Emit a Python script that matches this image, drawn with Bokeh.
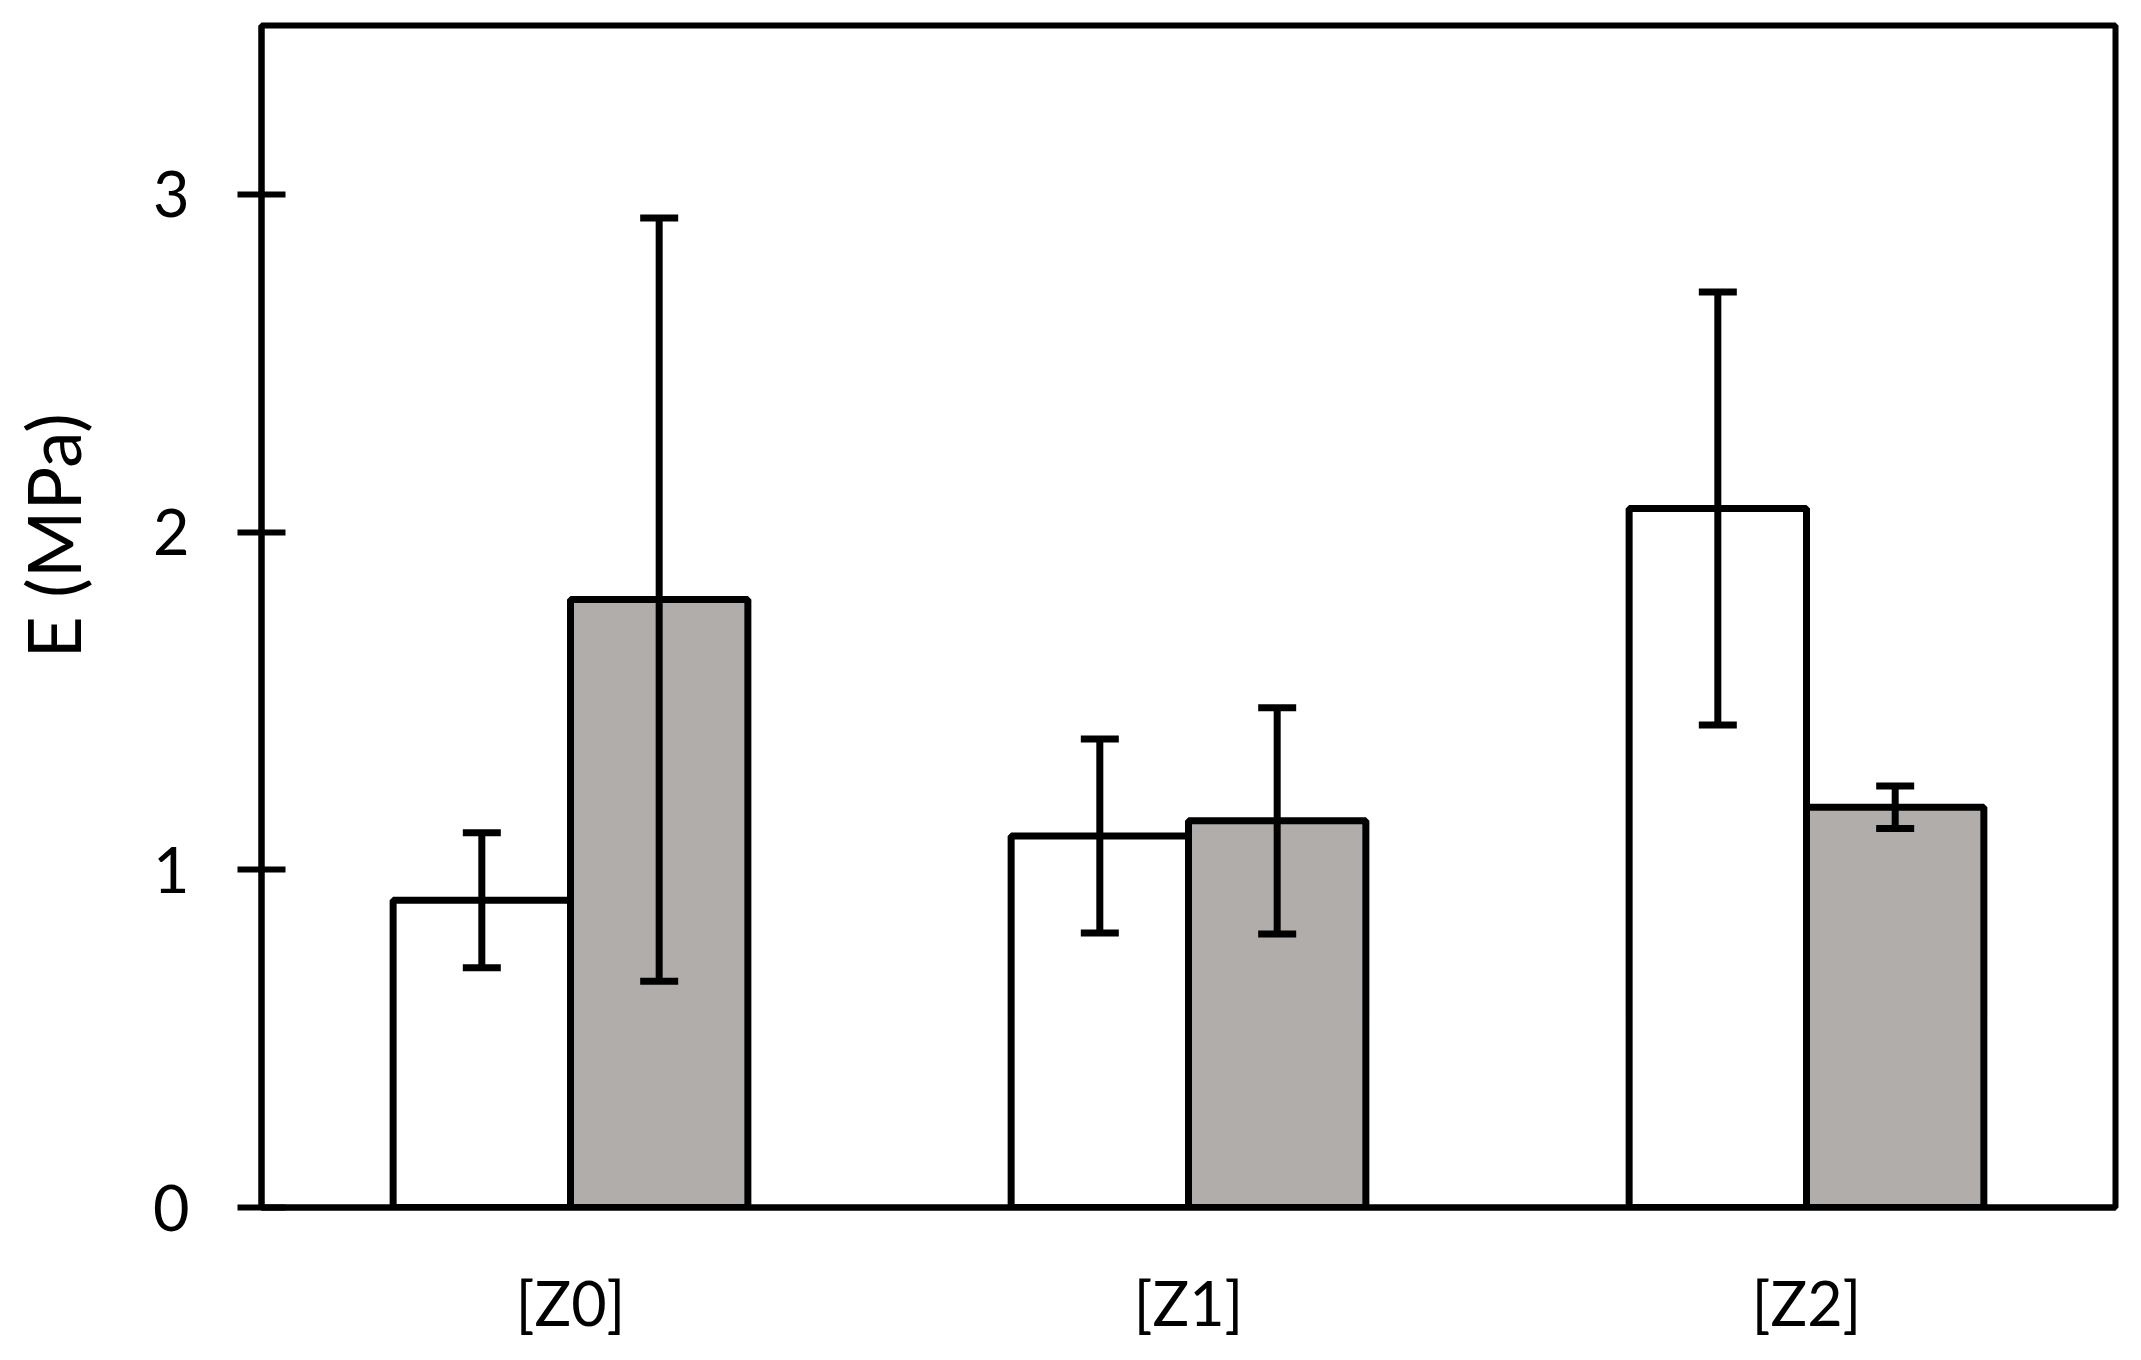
from bokeh.plotting import figure
from bokeh.models import ColumnDataSource, FactorRange, Range1d, FixedTicker, Whisker, TeeHead, Title
from bokeh.transform import dodge
from bokeh.embed import file_html
from bokeh.resources import INLINE

# ---- data ----
categories = ["[Z0]", "[Z1]", "[Z2]"]
series_a = [0.91, 1.10, 2.07]      # white bars
err_a = [0.20, 0.287, 0.641]
series_b = [1.80, 1.145, 1.185]    # grey bars
err_b = [1.13, 0.335, 0.063]
y_ticks = [0, 1, 2, 3]
y_label = "E (MPa)"

src = ColumnDataSource(dict(
    cat=categories,
    a=series_a, a_up=[v + e for v, e in zip(series_a, err_a)], a_lo=[v - e for v, e in zip(series_a, err_a)],
    b=series_b, b_up=[v + e for v, e in zip(series_b, err_b)], b_lo=[v - e for v, e in zip(series_b, err_b)],
))

FONT = "Lato"
LW = 7
BAR_W = 0.287
OFF = BAR_W / 2

p = figure(width=2125, height=1344, output_backend="svg", toolbar_location=None,
           x_range=FactorRange(factors=categories, range_padding=0),
           y_range=Range1d(0, 3.5),
           min_border_left=261, min_border_right=10, min_border_top=25, min_border_bottom=137)
p.background_fill_color = "white"
p.border_fill_color = "white"
p.outline_line_color = "black"
p.outline_line_width = 6
p.xgrid.visible = False
p.ygrid.visible = False

p.vbar(x=dodge("cat", -OFF, range=p.x_range), top="a", width=BAR_W, source=src,
       fill_color="white", line_color="black", line_width=LW)
p.vbar(x=dodge("cat", OFF, range=p.x_range), top="b", width=BAR_W, source=src,
       fill_color="#B0ADAB", line_color="black", line_width=LW)

for xoff, up, lo in [(-OFF, "a_up", "a_lo"), (OFF, "b_up", "b_lo")]:
    w = Whisker(source=src, base=dodge("cat", xoff, range=p.x_range), upper=up, lower=lo,
                line_color="black", line_width=LW, level="annotation",
                upper_head=TeeHead(size=38, line_width=LW, line_color="black"),
                lower_head=TeeHead(size=38, line_width=LW, line_color="black"))
    p.add_layout(w)

# y axis
ya = p.yaxis[0]
ya.ticker = FixedTicker(ticks=y_ticks, minor_ticks=[])
ya.axis_line_color = "black"
ya.axis_line_width = 6
ya.major_tick_line_color = "black"
ya.major_tick_line_width = 6
ya.major_tick_out = 24
ya.major_tick_in = 24
ya.minor_tick_line_color = None
ya.major_label_text_font = FONT
ya.major_label_text_font_size = "63px"
ya.major_label_text_color = "black"
ya.major_label_standoff = 48
# blank axis label used only as spacing so the title sits further left
ya.axis_label = " "
ya.axis_label_text_font_size = "10px"
ya.axis_label_standoff = 29

# x axis
xa = p.xaxis[0]
xa.axis_line_color = "black"
xa.axis_line_width = 6
xa.major_tick_out = 0
xa.major_tick_in = 0
xa.major_tick_line_color = None
xa.minor_tick_line_color = None
xa.major_label_text_font = FONT
xa.major_label_text_font_size = "61px"
xa.major_label_text_color = "black"
xa.major_label_standoff = 58

# y-axis title, positioned above the frame's middle as in the reference
p.add_layout(Title(text=y_label, align="left", offset=549, standoff=16, vertical_align="top",
                   text_font=FONT, text_font_size="73px", text_font_style="normal",
                   text_color="black"), "left")

open("out.html", "w").write(file_html(p, INLINE))
